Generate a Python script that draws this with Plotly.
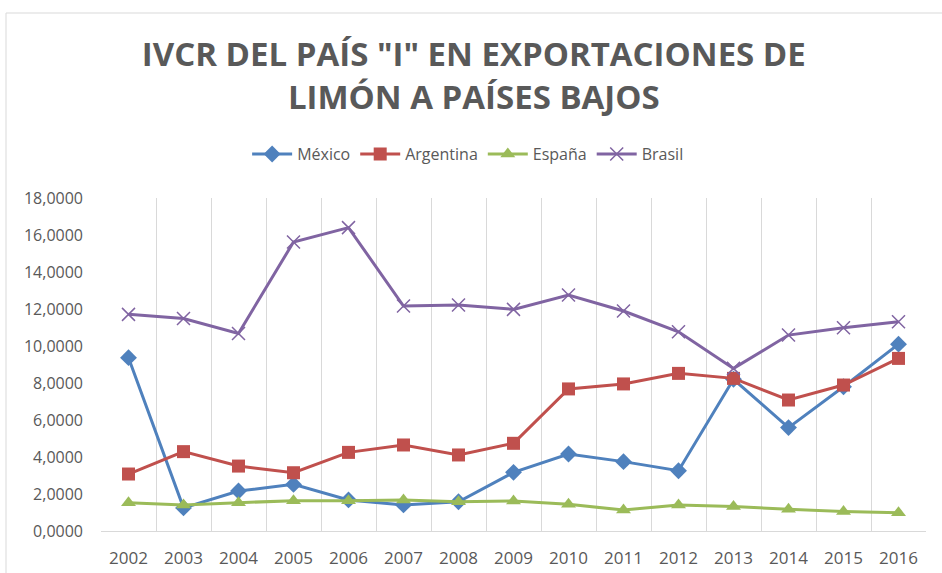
import plotly.graph_objects as go

years = ["2002", "2003", "2004", "2005", "2006", "2007", "2008", "2009",
         "2010", "2011", "2012", "2013", "2014", "2015", "2016"]
mexico = [9.37, 1.25, 2.16, 2.52, 1.68, 1.41, 1.58, 3.17, 4.16, 3.75, 3.26, 8.20, 5.59, 7.80, 10.10]
argentina = [3.08, 4.29, 3.51, 3.15, 4.25, 4.65, 4.11, 4.74, 7.68, 7.95, 8.52, 8.25, 7.08, 7.89, 9.33]
espana = [1.53, 1.41, 1.53, 1.64, 1.64, 1.68, 1.58, 1.62, 1.44, 1.13, 1.41, 1.32, 1.17, 1.05, 0.99]
brasil = [11.71, 11.49, 10.68, 15.62, 16.40, 12.16, 12.22, 11.98, 12.76, 11.89, 10.77, 8.79, 10.59, 10.99, 11.31]

series = [
    ("México", mexico, "#4F81BD", "diamond"),
    ("Argentina", argentina, "#C0504D", "square"),
    ("España", espana, "#9BBB59", "triangle-up"),
    ("Brasil", brasil, "#8064A2", "x-thin"),
]

fig = go.Figure()
for name, vals, color, sym in series:
    marker = dict(symbol=sym, size=13, color=color)
    if sym == "x-thin":
        marker = dict(symbol=sym, size=13, color=color, line=dict(color=color, width=1.5))
    fig.add_trace(go.Scatter(
        x=years, y=vals, name=name, mode="lines+markers",
        line=dict(color=color, width=3), marker=marker,
    ))

FONT = "Open Sans"
GRAY = "#595959"

fig.update_layout(
    width=942, height=573,
    margin=dict(l=101, r=16, t=198, b=42, autoexpand=False),
    paper_bgcolor="white", plot_bgcolor="white",
    separators=",.",
    title=dict(
        text='IVCR DEL PAÍS "I" EN EXPORTACIONES DE<br>LIMÓN A PAÍSES BAJOS',
        x=0.503, xanchor="center", yref="container", y=0.885, yanchor="middle",
        font=dict(family=FONT, size=33, color=GRAY, weight="bold"),
    ),
    legend=dict(
        orientation="h", x=0.445, xanchor="center", y=1.132, yanchor="middle",
        font=dict(family=FONT, size=16, color=GRAY),
        itemwidth=40,
    ),
    xaxis=dict(
        type="category", tickson="boundaries", showgrid=True,
        gridcolor="#D9D9D9", gridwidth=1,
        showline=True, linecolor="#D9D9D9", linewidth=1,
        ticks="", ticklabelstandoff=12, automargin=False,
        tickfont=dict(family=FONT, size=17, color=GRAY),
        range=[-0.5, 14.5],
    ),
    yaxis=dict(
        range=[0, 18], dtick=2, tickformat=".4f",
        showgrid=False, zeroline=False, showline=False,
        ticks="", ticklabelstandoff=17, automargin=False,
        tickfont=dict(family=FONT, size=16, color=GRAY),
    ),
    shapes=[dict(
        type="rect", xref="paper", yref="paper",
        x0=(6 - 101) / 825, x1=1.05, y0=-0.3, y1=(531 - 13) / 333,
        line=dict(color="#D9D9D9", width=1), fillcolor="rgba(0,0,0,0)",
        layer="below",
    )],
)

fig.write_html("out.html")
